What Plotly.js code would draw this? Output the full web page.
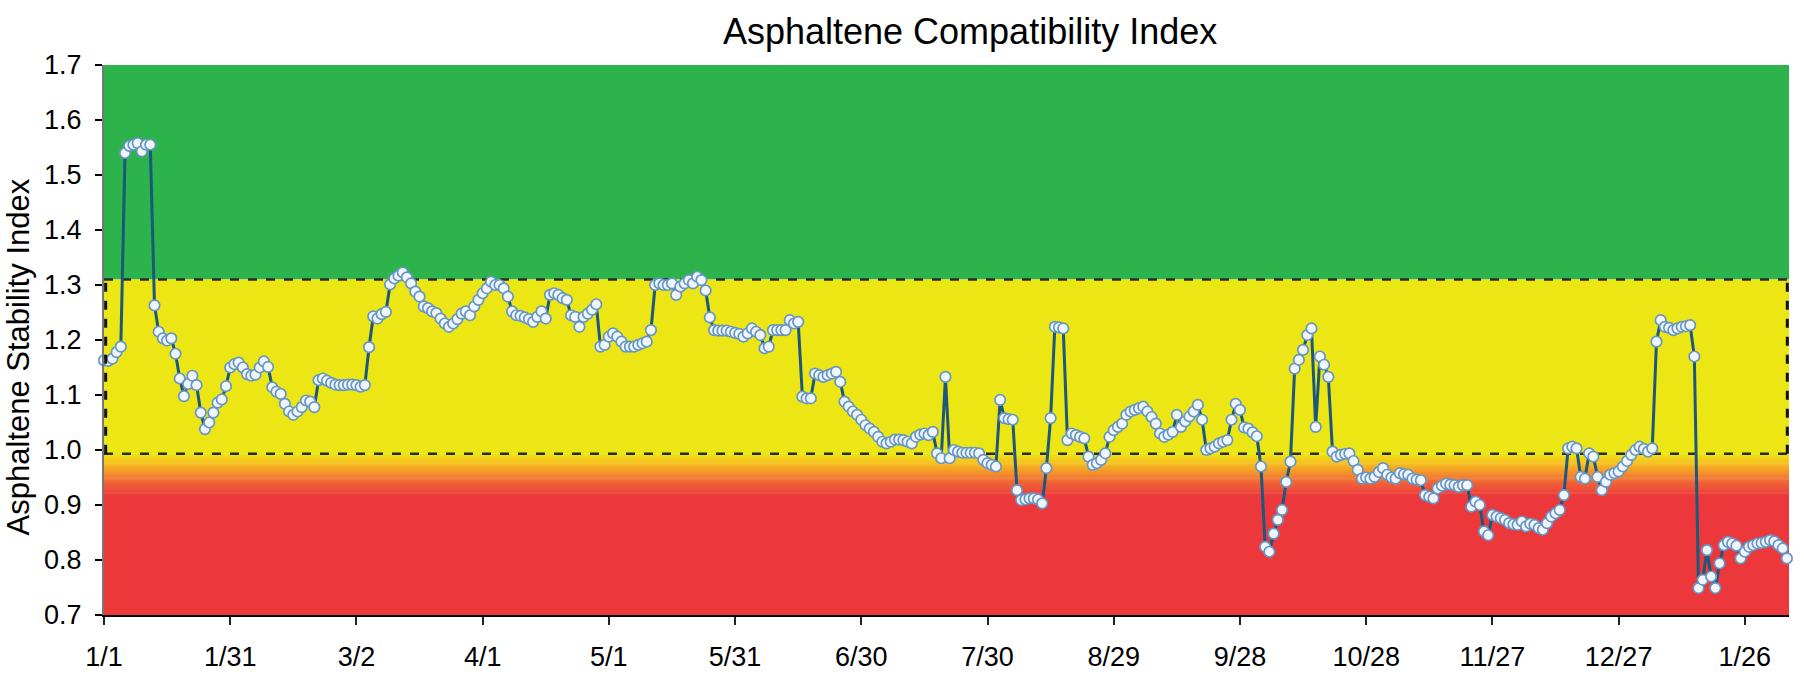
<!DOCTYPE html>
<html>
<head>
<meta charset="utf-8">
<script src="https://cdn.plot.ly/plotly-3.0.1.min.js"></script>
<style>
  html, body { margin: 0; padding: 0; background: #ffffff; }
  #chart { width: 1804px; height: 687px; }
</style>
</head>
<body>
<div id="chart"></div>
<script>
// ---- Data (daily readings, day 0 = 1/1) ----
const asi = [
  1.163,1.162,1.166,1.178,1.188,1.540,1.553,1.555,1.558,1.543,
  1.555,1.555,1.263,1.215,1.203,1.199,1.203,1.175,1.130,1.098,
  1.120,1.135,1.118,1.068,1.038,1.050,1.068,1.086,1.092,1.116,
  1.150,1.156,1.159,1.150,1.138,1.135,1.137,1.150,1.161,1.151,
  1.114,1.106,1.102,1.084,1.070,1.064,1.070,1.078,1.090,1.088,
  1.078,1.127,1.130,1.126,1.122,1.119,1.118,1.118,1.119,1.119,
  1.118,1.115,1.118,1.187,1.243,1.239,1.247,1.251,1.301,1.312,
  1.317,1.323,1.314,1.303,1.288,1.279,1.261,1.258,1.252,1.249,
  1.239,1.230,1.224,1.230,1.238,1.248,1.252,1.245,1.261,1.273,
  1.285,1.294,1.306,1.300,1.300,1.294,1.279,1.252,1.245,1.244,
  1.241,1.238,1.233,1.242,1.252,1.239,1.282,1.285,1.282,1.276,
  1.273,1.245,1.242,1.224,1.242,1.248,1.255,1.265,1.188,1.191,
  1.206,1.212,1.206,1.197,1.188,1.188,1.188,1.191,1.194,1.197,
  1.218,1.300,1.303,1.300,1.300,1.303,1.282,1.297,1.303,1.309,
  1.303,1.315,1.309,1.290,1.241,1.218,1.217,1.217,1.217,1.215,
  1.213,1.211,1.206,1.212,1.221,1.215,1.209,1.185,1.188,1.218,
  1.218,1.218,1.218,1.236,1.230,1.233,1.097,1.094,1.094,1.139,
  1.136,1.133,1.136,1.139,1.142,1.124,1.088,1.079,1.070,1.064,
  1.055,1.045,1.039,1.033,1.024,1.015,1.012,1.015,1.019,1.019,
  1.018,1.015,1.012,1.024,1.028,1.030,1.027,1.033,0.994,0.985,
  1.133,0.985,1.000,0.997,0.995,0.995,0.995,0.995,0.994,0.982,
  0.976,0.973,0.970,1.091,1.058,1.056,1.055,0.927,0.909,0.910,
  0.912,0.912,0.910,0.903,0.967,1.058,1.224,1.223,1.221,1.018,
  1.030,1.027,1.024,1.021,0.988,0.973,0.976,0.982,0.994,1.024,
  1.036,1.042,1.048,1.064,1.070,1.073,1.076,1.079,1.070,1.060,
  1.048,1.030,1.024,1.028,1.033,1.064,1.042,1.052,1.061,1.070,
  1.082,1.055,1.000,1.003,1.006,1.012,1.015,1.018,1.055,1.084,
  1.073,1.041,1.039,1.032,1.025,0.970,0.824,0.815,0.848,0.873,
  0.891,0.942,0.979,1.148,1.164,1.182,1.209,1.221,1.042,1.170,
  1.155,1.133,0.997,0.988,0.991,0.993,0.994,0.980,0.964,0.948,
  0.950,0.948,0.951,0.960,0.967,0.955,0.950,0.948,0.958,0.956,
  0.955,0.948,0.946,0.945,0.918,0.915,0.912,0.930,0.935,0.939,
  0.937,0.936,0.933,0.936,0.936,0.897,0.906,0.900,0.852,0.845,
  0.882,0.879,0.876,0.873,0.867,0.865,0.864,0.870,0.861,0.866,
  0.864,0.858,0.855,0.867,0.879,0.885,0.891,0.918,1.003,1.006,
  1.003,0.951,0.948,0.994,0.988,0.951,0.927,0.942,0.955,0.958,
  0.961,0.970,0.980,0.991,1.000,1.006,1.002,0.997,1.003,1.197,
  1.236,1.224,1.222,1.218,1.221,1.224,1.225,1.227,1.170,0.749,
  0.764,0.818,0.770,0.749,0.794,0.827,0.833,0.830,0.826,0.803,
  0.815,0.824,0.827,0.830,0.831,0.833,0.836,0.834,0.827,0.821,
  0.803
];
const tickDays = [0, 30, 60, 90, 120, 150, 180, 210, 240, 270, 300, 330, 360, 390];
const tickLabels = ["1/1","1/31","3/2","4/1","5/1","5/31","6/30","7/30","8/29","9/28","10/28","11/27","12/27","1/26"];
const zoneUpper = 1.31;   // stable / caution boundary
const zoneLower = 0.993;  // caution / unstable boundary

const days = asi.map((_, i) => i);

// ---- Background zones ----
const FONT = 'Liberation Sans, Arial, Helvetica, sans-serif';
const shapes = [];
function rect(y0, y1, color) {
  shapes.push({type: 'rect', xref: 'paper', yref: 'y', x0: 0, x1: 1, y0: y0, y1: y1,
    fillcolor: color, line: {width: 0}, layer: 'below'});
}
rect(zoneUpper, 1.7, '#2cb34b');
rect(zoneLower, zoneUpper, '#ebe614');
rect(0.7, 0.915, '#ec373b');
// vertical gradient yellow -> orange -> red
const stops = [
  [0.993, [235, 230, 20]],
  [0.975, [246, 190, 30]],
  [0.958, [245, 145, 44]],
  [0.938, [240, 96, 56]],
  [0.915, [236, 55, 59]]
];
function colorAt(y) {
  for (let i = 0; i < stops.length - 1; i++) {
    const a = stops[i], b = stops[i + 1];
    if (y <= a[0] && y >= b[0]) {
      const t = (a[0] - y) / (a[0] - b[0]);
      const c = a[1].map((v, k) => Math.round(v + (b[1][k] - v) * t));
      return 'rgb(' + c.join(',') + ')';
    }
  }
  return 'rgb(236,55,59)';
}
const N = 40, gTop = 0.993, gBot = 0.915;
for (let i = 0; i < N; i++) {
  const y1 = gTop - (gTop - gBot) * i / N;
  const y0 = gTop - (gTop - gBot) * (i + 1) / N;
  rect(y0 - 0.0005, y1 + 0.0005, colorAt((y0 + y1) / 2));
}
// dashed boundaries
const dashLine = {color: '#2b2b2b', width: 2.5, dash: 'dash'};
shapes.push({type: 'line', xref: 'paper', yref: 'y', x0: 0, x1: 1, y0: zoneUpper, y1: zoneUpper, line: dashLine, layer: 'below'});
shapes.push({type: 'line', xref: 'paper', yref: 'y', x0: 0, x1: 1, y0: zoneLower, y1: zoneLower, line: dashLine, layer: 'below'});
shapes.push({type: 'line', xref: 'paper', yref: 'y', x0: 0.001, x1: 0.001, y0: zoneLower, y1: zoneUpper, line: {color: '#111', width: 3, dash: 'dash'}, layer: 'above'});
shapes.push({type: 'line', xref: 'paper', yref: 'y', x0: 0.999, x1: 0.999, y0: zoneLower, y1: zoneUpper, line: {color: '#111', width: 3, dash: 'dash'}, layer: 'below'});

const trace = {
  x: days, y: asi, type: 'scatter', mode: 'lines+markers',
  line: {color: '#1b587c', width: 3},
  marker: {size: 10.5, color: '#f1f6fc', line: {color: '#6596c6', width: 1.7}},
  cliponaxis: false, hoverinfo: 'x+y', showlegend: false
};

const layout = {
  width: 1804, height: 687,
  margin: {l: 104, r: 15, t: 65, b: 72},
  paper_bgcolor: '#ffffff', plot_bgcolor: '#ffffff',
  font: {family: FONT, color: '#000000', size: 27},
  title: {text: 'Asphaltene Compatibility Index', x: 0.514, xref: 'paper', xanchor: 'center',
          y: 0.955, yref: 'container', yanchor: 'middle', font: {family: FONT, size: 36, color: '#000'}},
  xaxis: {
    range: [0, 400.5], tickmode: 'array', tickvals: tickDays, ticktext: tickLabels,
    showgrid: false, zeroline: false, showline: true, linecolor: '#000', linewidth: 2,
    ticks: 'outside', ticklen: 8, tickwidth: 2, tickcolor: '#222',
    tickfont: {family: FONT, size: 27, color: '#000'}, ticklabelstandoff: 9
  },
  yaxis: {
    range: [0.7, 1.7], tickmode: 'linear', tick0: 0.7, dtick: 0.1, tickformat: '.1f',
    showgrid: false, zeroline: false, showline: true, linecolor: '#777', linewidth: 2,
    ticks: 'outside', ticklen: 7, tickwidth: 2, tickcolor: '#000',
    tickfont: {family: FONT, size: 27, color: '#000'}, ticklabelstandoff: 8
  },
  annotations: [{
    text: 'Asphaltene Stability Index', xref: 'paper', yref: 'paper',
    x: -0.0505, y: 0.47, xanchor: 'center', yanchor: 'middle', textangle: -90,
    showarrow: false, font: {family: FONT, size: 31, color: '#000'}
  }],
  shapes: shapes
};

Plotly.newPlot('chart', [trace], layout, {displayModeBar: false, staticPlot: true});
</script>
</body>
</html>
